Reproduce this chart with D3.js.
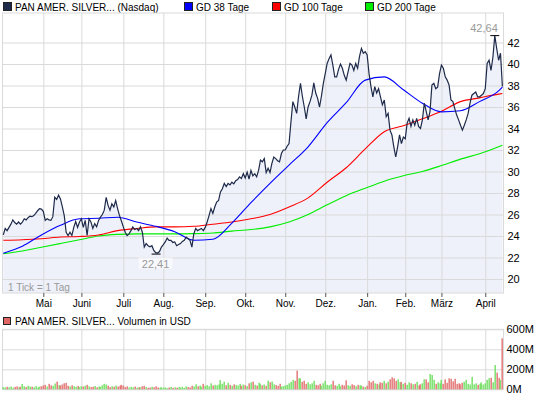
<!DOCTYPE html>
<html>
<head>
<meta charset="utf-8">
<script src="https://cdn.jsdelivr.net/npm/d3@7"></script>
<style>
body { margin: 0; background: #fff; }
svg { display: block; font-family: "Liberation Sans", Arial, sans-serif; }
</style>
</head>
<body>
<svg id="chartSVG"></svg>
<script>
// daily closes, trading days Apr 2010 - Apr 2011
var closes = [
    24.1, 24.7, 24.5, 24.8, 25.1, 25.5, 25.25, 25.1, 25.3, 25.1,
    25.3, 25.6, 25.5, 25.7, 25.85, 25.8, 25.9, 26.1, 26.35, 26.55,
    26.5, 26.3, 25.45, 25.6, 25.5, 25.45, 25.8, 27.6, 27.4, 27.8,
    27.45, 26.7, 25.9, 24.35, 24.05, 24.35, 24.05, 24.8, 25.35, 24.8,
    25.3, 25.6, 24.8, 25.45, 24.05, 25.6, 25.3, 24.7, 25.15, 24.85,
    25.45, 25.75, 26.0, 26.4, 27.6, 26.85, 26.4, 27.0, 26.7, 27.3,
    26.55, 25.9, 25.4, 24.85, 24.35, 24.05, 24.2, 24.5, 24.85, 24.6,
    24.7, 24.5, 24.85, 24.35, 22.97, 23.3, 23.1, 23.0, 23.1, 22.66,
    22.45, 22.41, 22.55, 22.97, 23.2, 23.45, 23.8, 23.6, 23.6, 23.4,
    23.45, 23.1, 23.2, 23.3, 23.5, 23.6, 23.9, 23.75, 23.6, 22.97,
    24.2, 24.7, 24.5, 24.6, 24.7, 24.5, 24.8, 25.3, 25.9, 26.55,
    26.1, 26.7, 27.15, 27.3, 28.1, 28.4, 28.9, 28.6, 28.9, 28.75,
    29.0, 28.85, 29.15, 29.25, 29.5, 29.35, 29.8, 29.4, 29.95, 29.3,
    30.1, 29.6, 29.8, 29.5, 30.1, 31.05, 30.9, 31.2, 29.9, 30.3,
    29.9, 30.75, 31.35, 31.2, 31.0, 30.9, 31.67, 32.0, 32.0, 32.35,
    32.6, 34.6, 36.5, 36.0, 35.4, 37.0, 38.2, 37.0, 36.0, 34.9,
    36.0, 36.5, 37.1, 38.25, 37.3, 36.8, 36.0, 37.0, 38.2, 39.1,
    40.05, 40.5, 40.85, 39.9, 38.8, 38.8, 39.5, 40.0, 39.6, 38.95,
    38.5, 39.3, 40.05, 39.9, 39.4, 40.05, 39.6, 40.7, 41.45, 41.0,
    41.15, 40.85, 39.1, 37.9, 36.95, 37.9, 37.3, 37.7, 36.95, 36.2,
    36.65, 35.1, 35.4, 33.85, 33.4, 32.3, 31.35, 32.3, 33.4, 32.6,
    33.2, 33.05, 34.5, 34.95, 34.2, 34.8, 34.3, 34.95, 34.2, 34.0,
    34.8, 36.35, 35.6, 34.8, 35.6, 38.05, 38.2, 37.7, 37.85, 39.1,
    39.9, 39.6, 38.8, 38.5, 38.05, 36.65, 36.5, 35.85, 35.25, 34.8,
    34.3, 33.85, 34.3, 34.8, 35.4, 36.35, 37.1, 37.25, 37.4, 36.95,
    36.95, 37.1, 37.25, 37.7, 40.05, 40.35, 39.4, 40.6, 42.64, 41.45,
    40.35, 41.0, 37.9
]

// volume in million USD
var volumes = [
    22, 18, 25, 20, 28, 16, 24, 30, 20, 26,
    53, 30, 22, 35, 28, 25, 20, 32, 18, 26,
    30, 38, 45, 28, 55, 40, 35, 58, 77, 42,
    38, 48, 60, 65, 35, 28, 40, 30, 25, 34,
    22, 30, 28, 36, 45, 30, 22, 26, 33, 20,
    28, 25, 40, 55, 48, 35, 22, 30, 26, 38,
    28, 35, 45, 38, 22, 30, 18, 25, 20, 28,
    16, 22, 18, 30, 35, 22, 15, 18, 25, 20,
    30, 18, 14, 22, 16, 20, 12, 18, 24, 15,
    20, 16, 22, 18, 25, 15, 30, 22, 18, 35,
    28, 50, 30, 38, 25, 55, 35, 42, 30, 60,
    38, 45, 40, 50, 93, 55, 77, 40, 65, 45,
    35, 50, 42, 38, 55, 35, 48, 40, 32, 60,
    70, 77, 45, 38, 65, 55, 40, 48, 35, 87,
    70, 77, 50, 42, 35, 55, 28, 32, 38, 45,
    60, 75, 95, 85, 187, 110, 110, 75, 85, 55,
    70, 50, 60, 85, 45, 40, 55, 35, 60, 85,
    45, 40, 50, 85, 40, 35, 55, 30, 45, 38,
    90, 40, 35, 50, 42, 30, 45, 38, 40, 28,
    22, 35, 85, 70, 85, 60, 55, 48, 70, 65,
    85, 60, 75, 100, 120, 110, 85, 100, 70, 75,
    55, 65, 45, 70, 60, 50, 55, 75, 40, 50,
    60, 100, 100, 70, 153, 143, 95, 55, 70, 60,
    95, 55, 100, 65, 110, 105, 80, 105, 55, 60,
    50, 65, 75, 95, 55, 48, 125, 50, 60, 45,
    55, 70, 48, 60, 95, 110, 115, 70, 243, 167,
    115, 95, 510
]

// moving averages, read every 10 trading days
var gdIdx = [0, 10, 20, 30, 40, 50, 60, 70, 80, 90, 100, 110, 120, 130, 140, 150, 160, 170, 180, 190, 200, 210, 220, 230, 240, 250, 260, 262]
var gd38 = [22.4, 23.05, 24.1, 25.0, 25.6, 25.65, 25.75, 25.3, 24.9, 24.4, 23.6, 23.7, 25.2, 27.1, 28.9, 30.6, 32.3, 34.55, 36.4, 38.5, 38.8, 37.6, 36.35, 35.55, 35.65, 36.5, 37.5, 37.85]
var gd100 = [23.6, 23.65, 23.75, 23.9, 23.95, 24.1, 24.5, 24.7, 24.85, 24.85, 24.9, 25.1, 25.3, 25.6, 26.0, 26.7, 27.55, 29.0, 30.35, 32.1, 33.7, 34.25, 34.9, 35.6, 36.5, 36.85, 37.2, 37.25]
var gd200 = [22.35, 22.6, 22.95, 23.3, 23.65, 24.0, 24.15, 24.2, 24.2, 24.2, 24.22, 24.28, 24.45, 24.6, 24.85, 25.3, 26.0, 26.9, 27.75, 28.45, 29.1, 29.6, 30.0, 30.55, 31.15, 31.65, 32.3, 32.45]

var monthLabels = ['Mai', 'Juni', 'Juli', 'Aug.', 'Sep.', 'Okt.', 'Nov.', 'Dez.', 'Jan.', 'Feb.', 'März', 'April']
var monthStarts = [21, 41, 63, 84, 106, 127, 148, 169, 191, 211, 230, 253]
var priceTicks = [20, 22, 24, 26, 28, 30, 32, 34, 36, 38, 40, 42]
var volumeTicks = [0, 200, 400, 600]

var legendItems = [
    {name: 'PAN AMER. SILVER... (Nasdaq)', color: '#1e2a4a', x: 3},
    {name: 'GD 38 Tage', color: '#0000ff', x: 184},
    {name: 'GD 100 Tage', color: '#ff0000', x: 272},
    {name: 'GD 200 Tage', color: '#00ee00', x: 365}
]

var width = 545, height = 398
var plot = {left: 2.5, right: 503.5, top: 13, bottom: 293}
var vol = {top: 329.3, bottom: 389.3}
var gridColor = '#dadada'
var fontSize = '10px'

var svg = d3.select('#chartSVG')
    .attr('width', width)
    .attr('height', height)

var xScale = d3.scaleLinear().domain([0, closes.length - 1]).range([3.3, 502.4])
var yScale = d3.scaleLinear().domain([20, 42]).range([279, 42.5])
var volScale = d3.scaleLinear().domain([0, 600]).range([vol.bottom, vol.top])

// legend
var legend = svg.append('g')
legend.selectAll('rect')
    .data(legendItems)
    .enter()
    .append('rect')
    .attr('x', function (d) { return d.x + 0.5 })
    .attr('y', 2.5)
    .attr('width', 8)
    .attr('height', 8)
    .style('fill', function (d) { return d.color })
    .style('stroke', '#222')
legend.selectAll('text')
    .data(legendItems)
    .enter()
    .append('text')
    .attr('x', function (d) { return d.x + 12 })
    .attr('y', 10.5)
    .style('font-size', fontSize)
    .text(function (d) { return d.name })

// main panel grid
var main = svg.append('g')
main.append('rect')
    .attr('x', plot.left).attr('y', plot.top)
    .attr('width', plot.right - plot.left).attr('height', plot.bottom - plot.top)
    .style('fill', '#fff')

var area = d3.area()
    .x(function (d, i) { return xScale(i) })
    .y0(plot.bottom)
    .y1(function (d) { return yScale(d) })
main.append('path')
    .datum(closes)
    .attr('d', area)
    .style('fill', '#eef1f9')

main.append('g')
    .attr('transform', 'translate(' + plot.left + ',0)')
    .call(d3.axisLeft(yScale).tickValues(priceTicks).tickSize(plot.left - plot.right).tickFormat(''))
    .call(function (g) { g.select('.domain').remove() })
    .selectAll('line').style('stroke', gridColor)

main.append('g')
    .attr('transform', 'translate(0,' + plot.bottom + ')')
    .call(d3.axisBottom(xScale).tickValues(monthStarts).tickSize(plot.top - plot.bottom).tickFormat(''))
    .call(function (g) { g.select('.domain').remove() })
    .selectAll('line').style('stroke', gridColor)

main.append('rect')
    .attr('x', plot.left).attr('y', plot.top)
    .attr('width', plot.right - plot.left).attr('height', plot.bottom - plot.top)
    .style('fill', 'none')
    .style('stroke', gridColor)

// month labels
var xAxis = main.append('g')
    .attr('transform', 'translate(0,' + plot.bottom + ')')
    .call(d3.axisBottom(xScale).tickValues(monthStarts).tickSize(4).tickPadding(3)
        .tickFormat(function (d, i) { return monthLabels[i] }))
xAxis.select('.domain').remove()
xAxis.selectAll('line').style('stroke', '#555')
xAxis.selectAll('text').style('font-size', fontSize).style('fill', '#000').style('font-family', '"Liberation Sans", Arial, sans-serif')

// price labels on the right
var yAxis = main.append('g')
    .attr('transform', 'translate(' + plot.right + ',0)')
    .call(d3.axisRight(yScale).tickValues(priceTicks).tickSize(0).tickPadding(4))
yAxis.select('.domain').remove()
yAxis.selectAll('text').style('font-size', '11px').style('fill', '#000').style('font-family', '"Liberation Sans", Arial, sans-serif')

// moving averages
var gdLine = d3.line()
    .x(function (d, i) { return xScale(gdIdx[i]) })
    .y(function (d) { return yScale(d) })
    .curve(d3.curveMonotoneX)
var gdSeries = [{values: gd200, color: '#00ee00'}, {values: gd100, color: '#ff0000'}, {values: gd38, color: '#0000ff'}]
main.selectAll('.gd')
    .data(gdSeries)
    .enter()
    .append('path')
    .attr('class', 'gd')
    .attr('d', function (d) { return gdLine(d.values) })
    .style('fill', 'none')
    .style('stroke', function (d) { return d.color })
    .style('stroke-width', 1.1)

// price line
var priceLine = d3.line()
    .x(function (d, i) { return xScale(i) })
    .y(function (d) { return yScale(d) })
main.append('path')
    .datum(closes)
    .attr('d', priceLine)
    .style('fill', 'none')
    .style('stroke', '#1e2a4a')
    .style('stroke-width', 1.2)

// high / low markers
var hi = d3.maxIndex(closes), lo = d3.minIndex(closes)
main.append('line')
    .attr('x1', xScale(hi) - 4.5).attr('x2', xScale(hi) + 4.5)
    .attr('y1', yScale(closes[hi])).attr('y2', yScale(closes[hi]))
    .style('stroke', '#000')
main.append('text')
    .attr('x', xScale(hi) + 3)
    .attr('y', yScale(closes[hi]) - 4)
    .attr('text-anchor', 'end')
    .style('font-size', '11px')
    .style('fill', '#999')
    .text(d3.format('.2f')(closes[hi]).replace('.', ','))
main.append('line')
    .attr('x1', xScale(lo) - 6).attr('x2', xScale(lo) + 3)
    .attr('y1', yScale(closes[lo]) + 1).attr('y2', yScale(closes[lo]) + 1)
    .style('stroke', '#000')
main.append('rect')
    .attr('x', xScale(lo) - 19).attr('y', yScale(closes[lo]) + 4.5)
    .attr('width', 34).attr('height', 11)
    .style('fill', '#fff').style('opacity', 0.6)
main.append('text')
    .attr('x', xScale(lo) - 2)
    .attr('y', yScale(closes[lo]) + 14.5)
    .attr('text-anchor', 'middle')
    .style('font-size', '11px')
    .style('fill', '#999')
    .text(d3.format('.2f')(closes[lo]).replace('.', ','))

main.append('text')
    .attr('x', 8).attr('y', 291)
    .style('font-size', fontSize)
    .style('fill', '#999')
    .text('1 Tick = 1 Tag')

// volume panel
var volG = svg.append('g')
volG.append('rect')
    .attr('x', 3.5).attr('y', 317.5).attr('width', 7).attr('height', 7)
    .style('fill', '#e06666').style('stroke', '#222')
volG.append('text')
    .attr('x', 15).attr('y', 325)
    .style('font-size', fontSize)
    .text('PAN AMER. SILVER... Volumen in USD')

volG.append('g')
    .attr('transform', 'translate(' + plot.left + ',0)')
    .call(d3.axisLeft(volScale).tickValues(volumeTicks).tickSize(plot.left - plot.right).tickFormat(''))
    .call(function (g) { g.select('.domain').remove() })
    .selectAll('line').style('stroke', gridColor)
volG.append('g')
    .attr('transform', 'translate(0,' + vol.bottom + ')')
    .call(d3.axisBottom(xScale).tickValues(monthStarts).tickSize(vol.top - vol.bottom).tickFormat(''))
    .call(function (g) { g.select('.domain').remove() })
    .selectAll('line').style('stroke', gridColor)
volG.append('rect')
    .attr('x', plot.left).attr('y', vol.top)
    .attr('width', plot.right - plot.left).attr('height', vol.bottom - vol.top)
    .style('fill', 'none')
    .style('stroke', gridColor)

volG.selectAll('.bar')
    .data(volumes)
    .enter()
    .append('rect')
    .attr('class', 'bar')
    .attr('x', function (d, i) { return Math.round(xScale(i)) - 0.5 })
    .attr('y', function (d) { return volScale(d) })
    .attr('width', 1.3)
    .attr('height', function (d) { return vol.bottom - volScale(d) })
    .style('fill', function (d, i) { return i > 0 && closes[i] < closes[i - 1] ? '#e06666' : '#66dd55' })

var vAxis = volG.append('g')
    .attr('transform', 'translate(' + plot.right + ',0)')
    .call(d3.axisRight(volScale).tickValues(volumeTicks).tickSize(0).tickPadding(3)
        .tickFormat(function (d) { return d + 'M' }))
vAxis.select('.domain').remove()
vAxis.selectAll('text').style('font-size', '11px').style('fill', '#000').style('font-family', '"Liberation Sans", Arial, sans-serif')
</script>
</body>
</html>
